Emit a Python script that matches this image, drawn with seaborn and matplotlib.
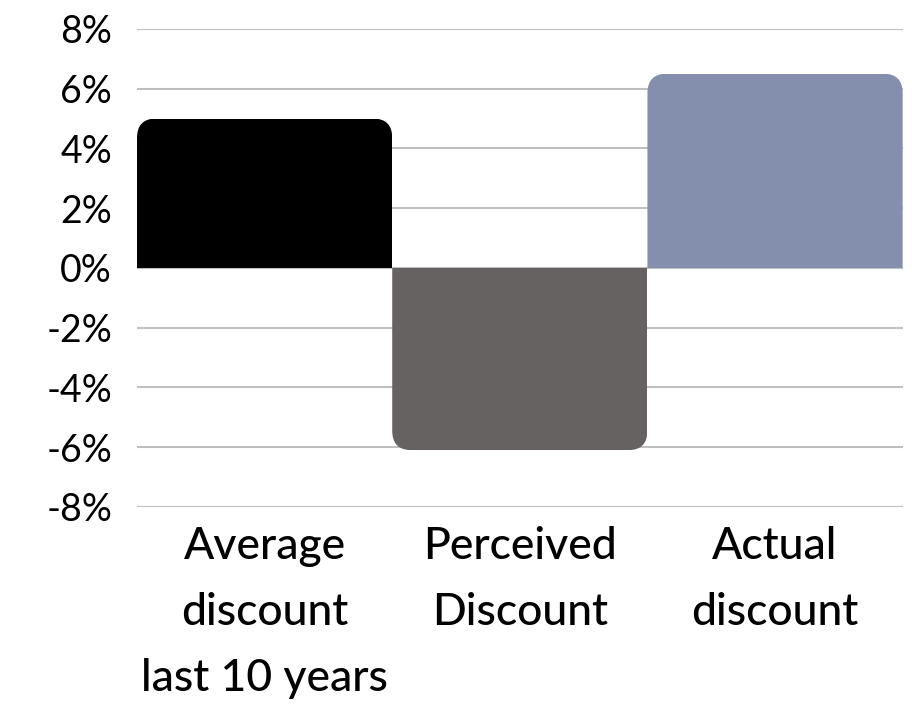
import matplotlib
matplotlib.use("Agg")
import matplotlib.pyplot as plt
import seaborn as sns
from matplotlib.patches import FancyBboxPatch, Rectangle
from matplotlib.ticker import FuncFormatter

categories = ["Average\ndiscount\nlast 10 years", "Perceived\nDiscount", "Actual\ndiscount"]
values = [5.0, -6.1, 6.5]
colors = ["#000000", "#666261", "#848FAD"]
yticks = [-8, -6, -4, -2, 0, 2, 4, 6, 8]

sns.set_style("white")
plt.rcParams["font.family"] = ["Lato", "DejaVu Sans"]

fig = plt.figure(figsize=(9.22, 7.05), dpi=100)
ax = fig.add_axes([0.1486, 0.281, 0.8304, 0.678])

sns.barplot(x=categories, y=values, hue=categories, palette=colors,
            width=1.0, legend=False, ax=ax, saturation=1)

ax.set_ylim(-8, 8)
ax.set_xlim(-0.5, 2.5)
ax.set_yticks(yticks)
ax.yaxis.set_major_formatter(FuncFormatter(lambda v, _: f"{v:.0f}%"))
ax.grid(axis="y", color="#BFBFBF", linewidth=1.5)
ax.set_axisbelow(True)
for s in ax.spines.values():
    s.set_visible(False)
ax.tick_params(axis="both", length=0, labelcolor="black")
ax.tick_params(axis="y", labelsize=27, pad=18)
ax.tick_params(axis="x", labelsize=32, pad=14)
for lab in ax.get_xticklabels():
    lab.set_fontweight("medium")
    lab.set_linespacing(1.75)
    lab.set_verticalalignment("top")

# rounded far end, square base (rounded box clipped at zero)
r_x = 0.075
r_y = 0.65
for p in list(ax.patches):
    x, w, h, col = p.get_x(), p.get_width(), p.get_height(), p.get_facecolor()
    p.set_visible(False)
    if h >= 0:
        y0, hh = -2 * r_y, h + 2 * r_y
    else:
        y0, hh = h, -h + 2 * r_y
    box = FancyBboxPatch((x, y0), w, hh,
                         boxstyle=f"round,pad=0,rounding_size={r_x}",
                         mutation_aspect=r_y / r_x,
                         facecolor=col, edgecolor="none", zorder=2)
    ax.add_patch(box)
    clip = Rectangle((x, min(0, h)), w, abs(h), transform=ax.transData)
    box.set_clip_path(clip)

ax.set_xlabel("")
ax.set_ylabel("")
fig.savefig("out.png", dpi=100)
